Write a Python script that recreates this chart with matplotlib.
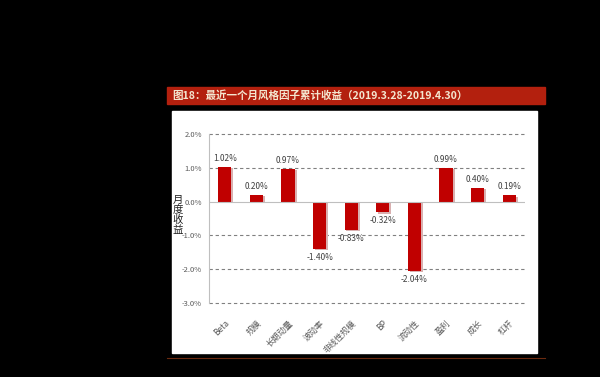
import matplotlib
matplotlib.use('Agg')
import matplotlib.pyplot as plt
from matplotlib.patches import Rectangle
from matplotlib.lines import Line2D

plt.rcParams['font.family'] = ['Noto Sans CJK SC', 'DejaVu Sans']

factors = ['Beta', '规模', '长期动量', '波动率', '非线性规模', 'BP', '流动性', '盈利', '成长', '杠杆']
returns = [1.02, 0.20, 0.97, -1.40, -0.83, -0.32, -2.04, 0.99, 0.40, 0.19]
yticks = [-3.0, -2.0, -1.0, 0.0, 1.0, 2.0]
title = '图18：最近一个月风格因子累计收益（2019.3.28-2019.4.30）'

W, H = 600, 377
fig = plt.figure(figsize=(6, 3.77), dpi=100, facecolor='black')

# red title bar, white panel, bottom rule (pixel coords -> figure fractions)
def px(x0, y0, x1, y1):
    return (x0 / W, 1 - y1 / H, (x1 - x0) / W, (y1 - y0) / H)

x, y, w, h = px(167, 87, 545, 104)
fig.patches.append(Rectangle((x, y), w, h, transform=fig.transFigure, color='#b3200e', zorder=-10))
x, y, w, h = px(172, 111, 537, 353)
fig.patches.append(Rectangle((x, y), w, h, transform=fig.transFigure, color='white', zorder=-10))
fig.lines.append(Line2D([167 / W, 545 / W], [1 - 358 / H] * 2, transform=fig.transFigure,
                        color='#6b2a10', linewidth=0.8, zorder=-10))
fig.text(172 / W, 1 - 95.5 / H, title, color='#f4e6d0', fontsize=7.6, fontweight='bold',
         va='center', ha='left')

ax = fig.add_axes([209 / W, 1 - 303 / H, (525 - 209) / W, (303 - 134) / H])
ax.set_facecolor('none')
pos = list(range(len(factors)))

# faint shadow then bars
ax.bar([p + 0.06 for p in pos], [r - 0.04 for r in returns], width=0.42,
       color='#d9b0b0', zorder=2)
ax.bar(pos, returns, width=0.42, color='#c00000', zorder=3)

for p, r in zip(pos, returns):
    if r >= 0:
        ax.text(p, r + 0.12, '%.2f%%' % r, ha='center', va='bottom', fontsize=6, color='#404040')
    else:
        ax.text(p, r - 0.12, '%.2f%%' % r, ha='center', va='top', fontsize=6, color='#404040')

ax.set_xlim(-0.5, len(factors) - 0.5)
ax.set_ylim(-3.0, 2.0)
ax.set_yticks(yticks)
ax.set_yticklabels(['%.1f%%' % t for t in yticks], fontsize=5.5, color='#595959')
for t in yticks:
    if t != 0:
        ax.axhline(t, color='#808080', linestyle=(0, (3, 2.5)), linewidth=0.8, zorder=1,
                   clip_on=False)
ax.axhline(0, color='#bfbfbf', linewidth=0.8, zorder=4)

ax.set_xticks(pos)
ax.set_xticklabels(factors, rotation=45, ha='right', rotation_mode='anchor', fontsize=6,
                   color='#595959')
ax.tick_params(axis='y', length=0, pad=5)
ax.tick_params(axis='x', length=0, pad=11)

for s in ['top', 'right', 'bottom']:
    ax.spines[s].set_visible(False)
ax.spines['left'].set_color('#bfbfbf')
ax.spines['left'].set_linewidth(0.8)

fig.text(178 / W, 1 - 215 / H, '月\n度\n收\n益', fontsize=7.5, color='#202020', ha='center',
         va='center', linespacing=1.0)

fig.savefig('out.png', dpi=100, facecolor='black')
